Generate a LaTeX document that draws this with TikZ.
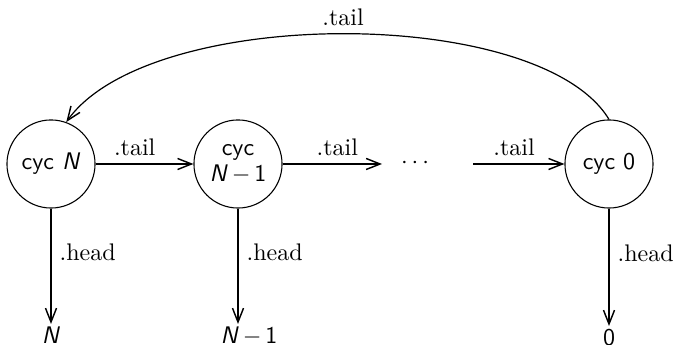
\documentclass[tikz,border=0pt]{standalone}
\usetikzlibrary{arrows.meta}
\begin{document}
\begin{tikzpicture}[x=0.41667pt,y=-0.41667pt,
  cyc/.style={circle,draw,line width=0.45pt,minimum size=36.7pt,inner sep=0pt,align=center,font=\sffamily},
  outv/.style={inner sep=1pt,anchor=north,font=\sffamily},
  arr/.style={-{Straight Barb[length=5.8pt,width=4.6pt,line width=0.6pt]},line width=0.5pt},
  lbl/.style={font=\rmfamily}]
\useasboundingbox (0,0) rectangle (678,345);
\node[cyc] (cN) at (51,164) {cyc \textit{N}};
\node[cyc] (cN1) at (238,164) {cyc\\[-1.5pt]\textit{N}\,$-$\,1};
\node[cyc] (c0) at (609,164) {cyc 0};
\node (dots) at (415,163) {$\cdots$};
\coordinate (d1) at (382,164);
\coordinate (d2) at (473,164);
\node[outv] (hN) at (51,324) {\textit{N}};
\node[outv] (hN1) at (249,324) {\textit{N}\,$-$\,1};
\node[outv] (h0) at (609,326) {0};
\coordinate (hN1t) at (238,324);
\draw[arr] (cN.east) -- node[above,pos=0.4,lbl] {.tail} (cN1.west);
\draw[arr] (cN1.east) -- node[above,pos=0.55,lbl] {.tail} (d1);
\draw[arr] (d2) -- node[above,pos=0.45,lbl] {.tail} (c0.west);
\draw[arr] (cN.south) -- node[right,pos=0.38,lbl] {.head} (hN.north);
\draw[arr] (cN1.south) -- node[right,pos=0.38,lbl] {.head} (hN1t);
\draw[arr] (c0.south) -- node[right,pos=0.38,lbl] {.head} (h0.north);
\draw[arr] (c0.north) .. controls (540,5) and (150,5) .. node[above,lbl] {.tail} (cN.70);
\end{tikzpicture}
\end{document}
